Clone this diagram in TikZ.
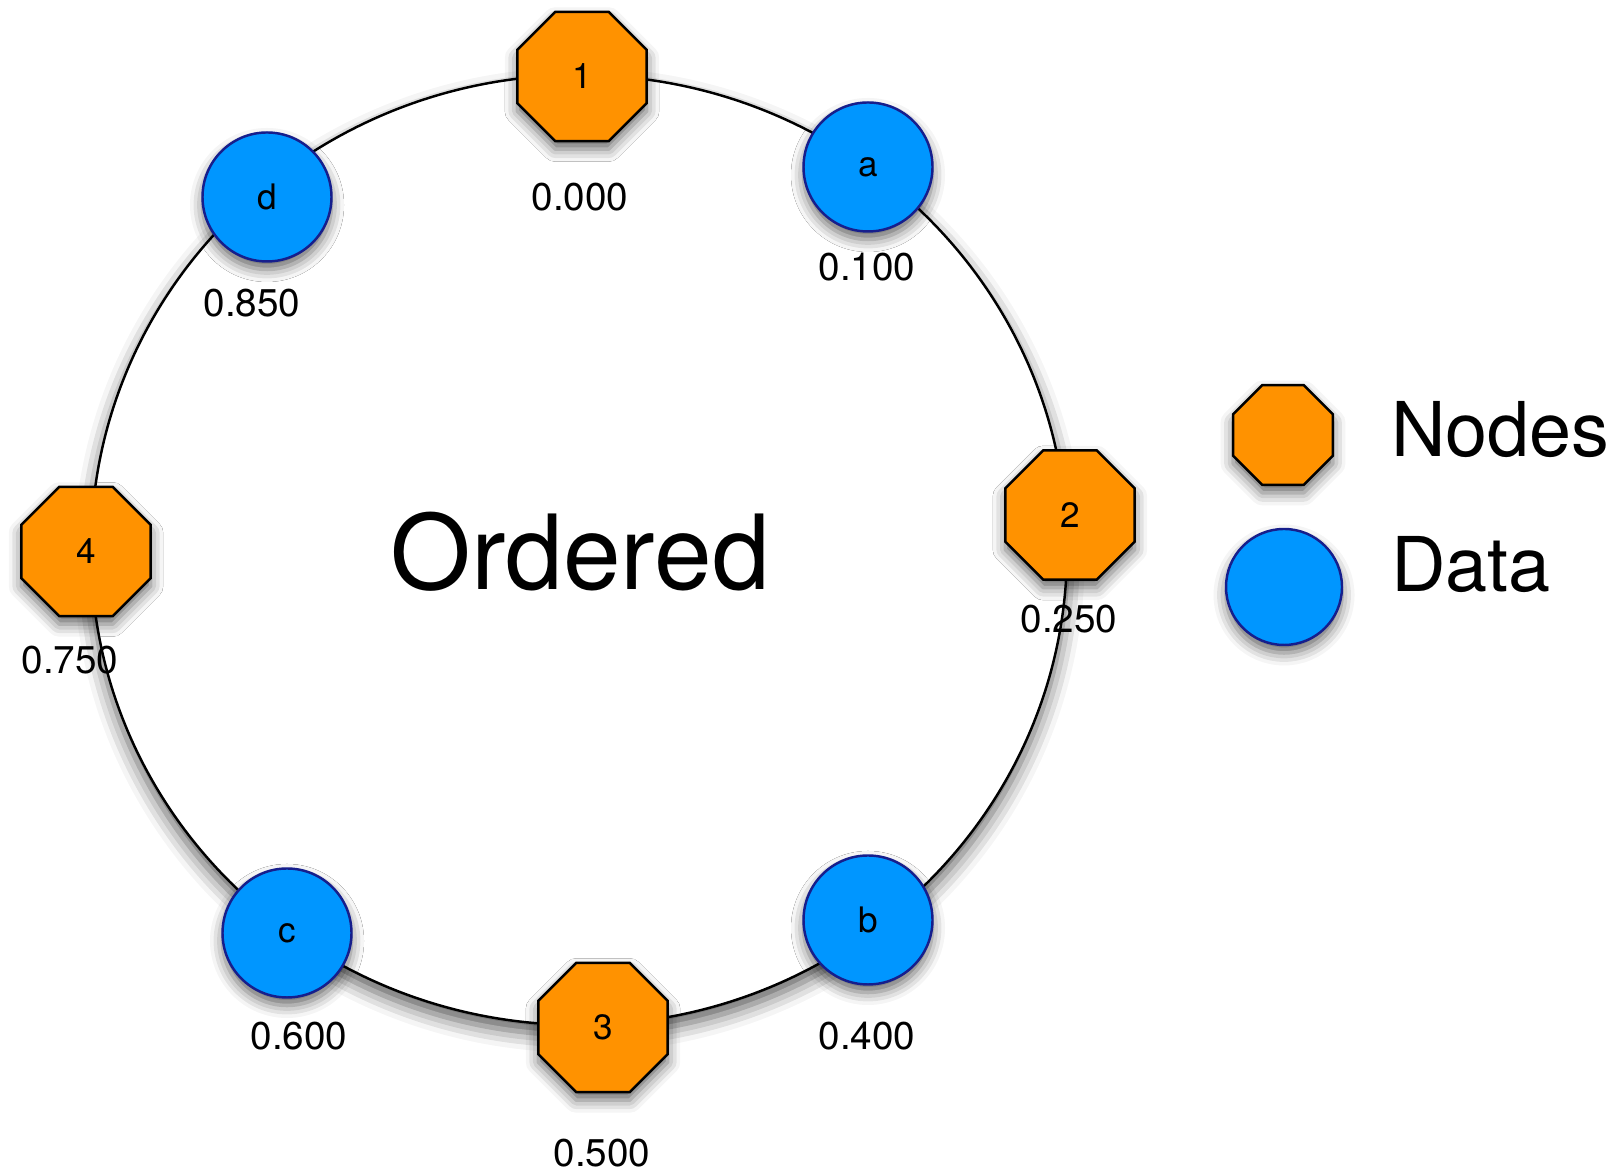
\documentclass[tikz,border=0pt]{standalone}
\usepackage{fontspec}
\setmainfont{TeX Gyre Heros}
\usetikzlibrary{shapes.geometric, shadows.blur}
\definecolor{nodeorange}{RGB}{255,146,0}
\definecolor{datablue}{RGB}{0,150,255}
\definecolor{dataedge}{RGB}{22,30,140}

\begin{document}
\begin{tikzpicture}[
	ringnode/.style={regular polygon, regular polygon sides=8, minimum size=2.8cm, inner sep=0pt, draw=black, line width=1.4pt, fill=nodeorange, font=\fontsize{20}{24}\selectfont, blur shadow={shadow xshift=0pt, shadow yshift=-0.16cm, shadow blur radius=0.25cm, shadow opacity=60}},
	datanode/.style={circle, minimum size=2.58cm, inner sep=0pt, draw=dataedge, line width=1.4pt, fill=datablue, font=\fontsize{20}{24}\selectfont, blur shadow={shadow xshift=0pt, shadow yshift=-0.16cm, shadow blur radius=0.25cm, shadow opacity=60}},
	hash/.style={font=\fontsize{22}{26}\selectfont, inner sep=0pt}
	]
	%%%	Help Lines
%	\draw [thin, help lines] (0,0) grid (32,23);
	\useasboundingbox (0,0) rectangle (32.48,23.48);
	%%%	Disegno
	% Anello
	\draw[line width=1.4pt, fill=white, blur shadow={shadow xshift=0pt, shadow yshift=-0.2cm, shadow blur radius=0.35cm, shadow opacity=65}] (11.58,12.48) ellipse (9.76 and 9.5);
	\node[font=\fontsize{59}{70}\selectfont] (title) at (11.60,12.44) {Ordered};
	
	% Nodi
	\node[ringnode] (n1) at (11.64,21.95) {1};
	\node[ringnode] (n2) at (21.40,13.18) {2};
	\node[ringnode] (n3) at (12.06,2.93) {3};
	\node[ringnode] (n4) at (1.72,12.45) {4};
	
	% Dati
	\node[datanode] (da) at (17.36,20.14) {a};
	\node[datanode] (db) at (17.36,5.08) {b};
	\node[datanode] (dc) at (5.74,4.82) {c};
	\node[datanode] (dd) at (5.34,19.54) {d};
	
	% Posizioni
	\node[hash] (h1) at (11.60,19.54) {0.000};
	\node[hash] (ha) at (17.34,18.14) {0.100};
	\node[hash] (h2) at (21.38,11.10) {0.250};
	\node[hash] (hb) at (17.34,2.76) {0.400};
	\node[hash] (h3) at (12.04,0.41) {0.500};
	\node[hash] (hc) at (5.98,2.76) {0.600};
	\node[hash] (h4) at (1.40,10.28) {0.750};
	\node[hash] (hd) at (5.04,17.42) {0.850};
	
	% Legenda
	\node[ringnode, minimum size=2.16cm] (lnode) at (25.66,14.78) {};
	\node[datanode, minimum size=2.32cm] (ldata) at (25.68,11.74) {};
	\node[anchor=west, inner sep=0pt, font=\fontsize{43}{50}\selectfont] (tnode) at (27.82,14.88) {Nodes};
	\node[anchor=west, inner sep=0pt, font=\fontsize{43}{50}\selectfont] (tdata) at (27.82,12.18) {Data};
	
\end{tikzpicture}
\end{document}
